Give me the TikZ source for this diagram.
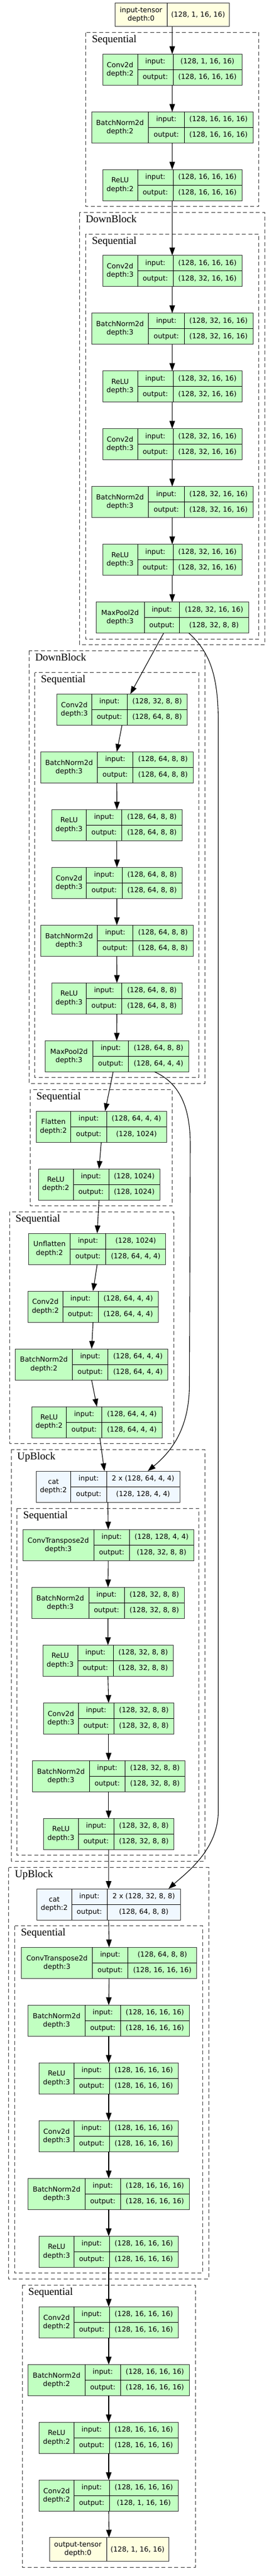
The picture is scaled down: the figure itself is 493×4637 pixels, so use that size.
\documentclass[tikz,border=0pt]{standalone}
\usepackage{fontspec}
\newfontfamily\dvs{DejaVu Sans}
\newfontfamily\tms{Liberation Serif}
\usetikzlibrary{arrows.meta,calc}
\definecolor{grn}{HTML}{C1FFC1}
\definecolor{ylw}{HTML}{FFFFE0}
\definecolor{alb}{HTML}{F0F8FF}
\definecolor{bord}{HTML}{333333}
\tikzset{
 tbox/.style={draw=bord, line width=1pt, inner sep=0pt, outer sep=0pt, minimum height=56pt, rectangle},
 tline/.style={draw=black, line width=1pt},
 ttext/.style={font=\dvs\fontsize{12.5}{15.3}\selectfont, inner sep=0pt, anchor=base},
 ttitle/.style={font=\dvs\fontsize{12.5}{15.3}\selectfont, inner sep=0pt, align=center},
 cluster/.style={draw=bord, line width=1pt, dash pattern=on 7pt off 4.5pt},
 clabel/.style={font=\tms\fontsize{19}{22}\selectfont, inner sep=0pt, anchor=base west},
 edge/.style={draw=black, line width=1.1pt, -{Triangle[length=14pt,width=10pt]}},
}
\newcommand\tpos[5]{\def\tXa{#1}\def\tXb{#2}\def\tXc{#3}\def\tXd{#4}\def\tYt{#5}}
\newcommand\tbl[5]{%
 \node[tbox, fill=#2, minimum width={(\tXd-\tXa)*1pt}, anchor=north west] (#1) at (\tXa,\tYt) {};
 \draw[tline] (\tXb,\tYt) -- (\tXb,{\tYt+56}) (\tXc,\tYt) -- (\tXc,{\tYt+56}) (\tXb,{\tYt+28}) -- (\tXd,{\tYt+28});
 \node[ttitle] (#1-t) at ({(\tXa+\tXb)/2},{\tYt+28}) {#3};
 \node[ttext] (#1-i) at ({(\tXb+\tXc)/2},{\tYt+17.5}) {input:};
 \node[ttext] (#1-o) at ({(\tXb+\tXc)/2},{\tYt+45.5}) {output:};
 \node[ttext] (#1-iv) at ({(\tXc+\tXd)/2},{\tYt+17.5}) {#4};
 \node[ttext] (#1-ov) at ({(\tXc+\tXd)/2},{\tYt+45.5}) {#5};
}
\newcommand\tens[6]{%
 \node[tbox, fill=ylw, minimum height=42.7pt, minimum width={(#4-#2)*1pt}, anchor=north west] (#1) at (#2,#5) {};
 \draw[tline] (#3,#5) -- (#3,{#5+42.7});
 \node[ttitle] (#1-t) at ({(#2+#3)/2},{#5+21.35}) {#6\\depth:0};
 \node[ttitle] (#1-v) at ({(#3+#4)/2},{#5+21.35}) {(128, 1, 16, 16)};
}
\newcommand\clus[6]{%
 \draw[cluster] (#2,#3) rectangle (#4,#5);
 \node[clabel] (#1) at ({#2+11},{#3+18}) {#6};
}
\begin{document}
\begin{tikzpicture}[x=1pt,y=-1pt]
\fill[white] (0,0) rectangle (493,4637);
\useasboundingbox (0,0) rectangle (493,4637);
% clusters
\clus{s1}{154.7}{58.7}{466.7}{371.7}{Sequential}
\clus{db1}{143.3}{382.7}{477.3}{1160}{DownBlock}
\clus{s2}{154.7}{421}{466.7}{1150.3}{Sequential}
\clus{db2}{52.3}{1171.7}{369.3}{1950}{DownBlock}
\clus{s3}{62.7}{1210.7}{358.7}{1939.7}{Sequential}
\clus{s4}{54.3}{1961}{310.7}{2170.7}{Sequential}
\clus{s5}{17}{2181.3}{313.3}{2598.3}{Sequential}
\clus{ub1}{20}{2609.3}{369}{3350}{UpBlock}
\clus{s6}{30.7}{2715}{358.7}{3339.3}{Sequential}
\clus{ub2}{15.7}{3361.7}{376}{4102.3}{UpBlock}
\clus{s7}{26.7}{3466.7}{365.3}{4091.7}{Sequential}
\clus{s8}{40}{4113.3}{352}{4621}{Sequential}
% nodes
\tens{in}{207.7}{301}{413.3}{5}{input-tensor}
\tpos{185}{248}{312}{436}{97.3}\tbl{c1}{grn}{Conv2d\\depth:2}{(128, 1, 16, 16)}{(128, 16, 16, 16)}
\tpos{165}{267.7}{332}{456}{201.3}\tbl{b1}{grn}{BatchNorm2d\\depth:2}{(128, 16, 16, 16)}{(128, 16, 16, 16)}
\tpos{185}{248}{312}{436}{305.3}\tbl{r1}{grn}{ReLU\\depth:2}{(128, 16, 16, 16)}{(128, 16, 16, 16)}
\tpos{185}{248}{312}{436}{459.7}\tbl{d1c1}{grn}{Conv2d\\depth:3}{(128, 16, 16, 16)}{(128, 32, 16, 16)}
\tpos{165}{267.7}{332}{456}{563.7}\tbl{d1b1}{grn}{BatchNorm2d\\depth:3}{(128, 32, 16, 16)}{(128, 32, 16, 16)}
\tpos{185}{248}{312}{436}{667.7}\tbl{d1r1}{grn}{ReLU\\depth:3}{(128, 32, 16, 16)}{(128, 32, 16, 16)}
\tpos{185}{248}{312}{436}{771.7}\tbl{d1c2}{grn}{Conv2d\\depth:3}{(128, 32, 16, 16)}{(128, 32, 16, 16)}
\tpos{165}{267.7}{332}{456}{875.7}\tbl{d1b2}{grn}{BatchNorm2d\\depth:3}{(128, 32, 16, 16)}{(128, 32, 16, 16)}
\tpos{185}{248}{312}{436}{979.7}\tbl{d1r2}{grn}{ReLU\\depth:3}{(128, 32, 16, 16)}{(128, 32, 16, 16)}
\tpos{173}{260}{323.7}{448}{1083.7}\tbl{d1m}{grn}{MaxPool2d\\depth:3}{(128, 32, 16, 16)}{(128, 32, 8, 8)}
\tpos{102.7}{165.3}{229.3}{337.3}{1249.3}\tbl{d2c1}{grn}{Conv2d\\depth:3}{(128, 32, 8, 8)}{(128, 64, 8, 8)}
\tpos{73.3}{175.7}{239.7}{348}{1353.3}\tbl{d2b1}{grn}{BatchNorm2d\\depth:3}{(128, 64, 8, 8)}{(128, 64, 8, 8)}
\tpos{93.3}{155.7}{219.7}{328.3}{1457.3}\tbl{d2r1}{grn}{ReLU\\depth:3}{(128, 64, 8, 8)}{(128, 64, 8, 8)}
\tpos{93.3}{155.7}{220}{328.3}{1561.3}\tbl{d2c2}{grn}{Conv2d\\depth:3}{(128, 64, 8, 8)}{(128, 64, 8, 8)}
\tpos{73.3}{175.7}{239.7}{348}{1665.3}\tbl{d2b2}{grn}{BatchNorm2d\\depth:3}{(128, 64, 8, 8)}{(128, 64, 8, 8)}
\tpos{93.3}{155.7}{219.7}{328.3}{1769.3}\tbl{d2r2}{grn}{ReLU\\depth:3}{(128, 64, 8, 8)}{(128, 64, 8, 8)}
\tpos{81}{167.7}{231.7}{340}{1873.3}\tbl{d2m}{grn}{MaxPool2d\\depth:3}{(128, 64, 8, 8)}{(128, 64, 4, 4)}
\tpos{65}{127.7}{192}{300}{2000}\tbl{f}{grn}{Flatten\\depth:2}{(128, 64, 4, 4)}{(128, 1024)}
\tpos{69}{132}{196}{288}{2104}\tbl{fr}{grn}{ReLU\\depth:2}{(128, 1024)}{(128, 1024)}
\tpos{51.7}{126.7}{190.7}{298.7}{2220}\tbl{u}{grn}{Unflatten\\depth:2}{(128, 1024)}{(128, 64, 4, 4)}
\tpos{50.3}{113.3}{177}{285.3}{2324}\tbl{uc}{grn}{Conv2d\\depth:2}{(128, 64, 4, 4)}{(128, 64, 4, 4)}
\tpos{27.7}{130.7}{194.7}{302.7}{2428}\tbl{ub}{grn}{BatchNorm2d\\depth:2}{(128, 64, 4, 4)}{(128, 64, 4, 4)}
\tpos{57.3}{119.7}{183.7}{292}{2532}\tbl{ur}{grn}{ReLU\\depth:2}{(128, 64, 4, 4)}{(128, 64, 4, 4)}
\tpos{65}{127.7}{192}{324}{2648}\tbl{cat1}{alb}{cat\\depth:2}{2 x (128, 64, 4, 4)}{(128, 128, 4, 4)}
\tpos{41}{169.3}{233.3}{349.3}{2753.3}\tbl{u1t}{grn}{ConvTranspose2d\\depth:3}{(128, 128, 4, 4)}{(128, 32, 8, 8)}
\tpos{57.3}{160}{224}{332.3}{2857.3}\tbl{u1b}{grn}{BatchNorm2d\\depth:3}{(128, 32, 8, 8)}{(128, 32, 8, 8)}
\tpos{77}{140}{204}{312.3}{2961.3}\tbl{u1r}{grn}{ReLU\\depth:3}{(128, 32, 8, 8)}{(128, 32, 8, 8)}
\tpos{78.3}{141.3}{205.3}{313.3}{3065.3}\tbl{u1c}{grn}{Conv2d\\depth:3}{(128, 32, 8, 8)}{(128, 32, 8, 8)}
\tpos{58.3}{161.3}{225.3}{333.3}{3169.3}\tbl{u1b2}{grn}{BatchNorm2d\\depth:3}{(128, 32, 8, 8)}{(128, 32, 8, 8)}
\tpos{78.3}{141.3}{205.3}{313.3}{3273.3}\tbl{u1r2}{grn}{ReLU\\depth:3}{(128, 32, 8, 8)}{(128, 32, 8, 8)}
\tpos{66.7}{129}{193.3}{325}{3400}\tbl{cat2}{alb}{cat\\depth:2}{2 x (128, 32, 8, 8)}{(128, 64, 8, 8)}
\tpos{38.7}{166.7}{230.7}{354.7}{3505.3}\tbl{u2t}{grn}{ConvTranspose2d\\depth:3}{(128, 64, 8, 8)}{(128, 16, 16, 16)}
\tpos{50.7}{153.3}{217.3}{341.3}{3609.3}\tbl{u2b}{grn}{BatchNorm2d\\depth:3}{(128, 16, 16, 16)}{(128, 16, 16, 16)}
\tpos{70.7}{133.3}{197.3}{321.3}{3713.3}\tbl{u2r}{grn}{ReLU\\depth:3}{(128, 16, 16, 16)}{(128, 16, 16, 16)}
\tpos{70.7}{133.3}{197.3}{321.3}{3817.3}\tbl{u2c}{grn}{Conv2d\\depth:3}{(128, 16, 16, 16)}{(128, 16, 16, 16)}
\tpos{50.7}{153.3}{217.3}{341.3}{3921.3}\tbl{u2b2}{grn}{BatchNorm2d\\depth:3}{(128, 16, 16, 16)}{(128, 16, 16, 16)}
\tpos{70.7}{133.3}{197.3}{321.3}{4025.3}\tbl{u2r2}{grn}{ReLU\\depth:3}{(128, 16, 16, 16)}{(128, 16, 16, 16)}
\tpos{70.7}{133.3}{197.3}{321.3}{4152.3}\tbl{fc}{grn}{Conv2d\\depth:2}{(128, 16, 16, 16)}{(128, 16, 16, 16)}
\tpos{50.7}{153.3}{217.3}{341.3}{4256.3}\tbl{fb}{grn}{BatchNorm2d\\depth:2}{(128, 16, 16, 16)}{(128, 16, 16, 16)}
\tpos{70.7}{133.3}{197.3}{321.3}{4360.3}\tbl{fr2}{grn}{ReLU\\depth:2}{(128, 16, 16, 16)}{(128, 16, 16, 16)}
\tpos{70.7}{133.3}{197.3}{321.3}{4464.3}\tbl{fc2}{grn}{Conv2d\\depth:2}{(128, 16, 16, 16)}{(128, 1, 16, 16)}
\tens{out}{89}{192}{304}{4567.7}{output-tensor}
% edges
\foreach \a/\b in {in/c1, c1/b1, b1/r1, r1/d1c1, d1c1/d1b1, d1b1/d1r1, d1r1/d1c2, d1c2/d1b2, d1b2/d1r2, d1r2/d1m,
  d2c1/d2b1, d2b1/d2r1, d2r1/d2c2, d2c2/d2b2, d2b2/d2r2, d2r2/d2m,
  f/fr, fr/u, u/uc, uc/ub, ub/ur, cat1/u1t, u1t/u1b, u1b/u1r, u1r/u1c, u1c/u1b2, u1b2/u1r2, u1r2/cat2,
  cat2/u2t, u2t/u2b, u2b/u2r, u2r/u2c, u2c/u2b2, u2b2/u2r2, u2r2/fc, fc/fb, fb/fr2, fr2/fc2, fc2/out}
  \draw[edge] (\a.south) -- (\b.north);
\draw[edge] ($(ur.south)+(5.3,0)$) -- ($(cat1.north)+(-6.2,0)$);
\draw[edge] ($(d1m.south)+(-15.5,0)$) -- ($(d2c1.north)+(15,0)$);
\draw[edge] ($(d2m.south)+(-6.5,0)$) -- ($(f.north)+(7,0)$);
\draw[edge] ($(d1m.south)+(30,0)$) .. controls (380,1175) and (393.5,1220) .. (393.5,1300)
  -- (393.5,3260) .. controls (393.5,3330) and (335,3372) .. ($(cat2.north)+(108,0)$);
\draw[edge] ($(d2m.south)+(68,0)$) .. controls (325,1950) and (343,1995) .. (343,2060)
  -- (341.5,2490) .. controls (342,2570) and (310,2612) .. ($(cat1.north)+(72,0)$);
\end{tikzpicture}
\end{document}
